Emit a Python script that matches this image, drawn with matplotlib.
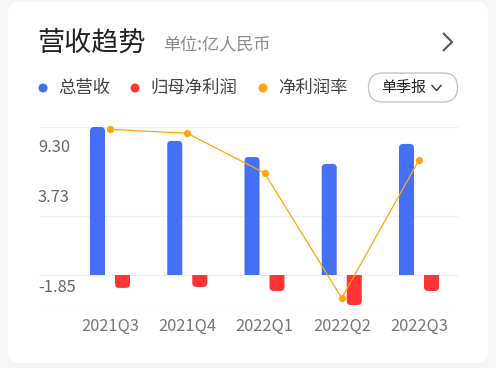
import matplotlib
matplotlib.use("Agg")
import matplotlib.pyplot as plt
from matplotlib.patches import FancyBboxPatch, Rectangle, Circle
from matplotlib.transforms import blended_transform_factory
from matplotlib.lines import Line2D

plt.rcParams['font.family'] = ['Noto Sans CJK SC', 'DejaVu Sans']

# ---------------- data ----------------
categories = ["2021Q3", "2021Q4", "2022Q1", "2022Q2", "2022Q3"]
revenue = [9.30, 8.43, 7.42, 6.99, 8.24]          # 总营收 (亿)
net_profit = [-0.78, -0.72, -0.97, -1.85, -0.97]   # 归母净利润 (亿)
net_margin = [-8.45, -8.87, -13.12, -26.51, -11.73]  # 净利润率 (%)
ytick_values = [-1.85, 3.73, 9.30]
ytick_labels = ["-1.85", "3.73", "9.30"]

title = "营收趋势"
subtitle = "单位:亿人民币"
legend_names = ["总营收", "归母净利润", "净利润率"]
button_text = "单季报"

BLUE = "#4570F6"
RED = "#FF3434"
ORANGE = "#FFA60A"

W, H = 496, 368
fig = plt.figure(figsize=(W / 100, H / 100), dpi=100)
fig.patch.set_facecolor("#f6f6f6")

# background / decoration axes in pixel coordinates
bg = fig.add_axes([0, 0, 1, 1])
bg.set_xlim(0, W)
bg.set_ylim(H, 0)
bg.axis("off")
bg.set_zorder(0)
bg.add_patch(FancyBboxPatch((8, 2), 480, 361, boxstyle="round,pad=0,rounding_size=12",
                            facecolor="white", edgecolor="none"))

bg.text(37, 43, title, fontsize=19.5, color="#222222", va="center", ha="left")
bg.text(163, 44, subtitle, fontsize=12.3, color="#8a8a8a", va="center", ha="left")
bg.add_line(Line2D([443, 452, 443], [33, 42, 51], color="#555555", lw=1.5,
                   solid_joinstyle="miter", solid_capstyle="butt"))

legend_colors = [BLUE, RED, ORANGE]
legend_dot_x = [43, 135, 263]
for name, c, dx in zip(legend_names, legend_colors, legend_dot_x):
    bg.add_patch(Circle((dx, 88), 4.5, facecolor=c, edgecolor="none"))
    bg.text(dx + 15, 88, name, fontsize=12.5, color="#444444", va="center", ha="left")

bg.add_patch(FancyBboxPatch((368.5, 73), 89, 29, boxstyle="round,pad=0,rounding_size=14.5",
                            facecolor="white", edgecolor="#c4c4c4", lw=1))
bg.text(381, 88, button_text, fontsize=10.8, color="#222222", va="center", ha="left")
bg.add_line(Line2D([432, 436.5, 441], [85.5, 90.5, 85.5], color="#333333", lw=1))

# ---------------- chart axes ----------------
px_left, px_right, px_top, px_bottom = 39, 458, 127, 305
ax = fig.add_axes([px_left / W, (H - px_bottom) / H, (px_right - px_left) / W,
                   (px_bottom - px_top) / H])
ax.set_zorder(1)
ax.patch.set_visible(False)
cat_px0, cat_step = 110, 77.25
xlo = (px_left - cat_px0) / cat_step
xhi = (px_right - cat_px0) / cat_step
ax.set_xlim(xlo, xhi)
ymin, ymax = min(net_profit), max(revenue)
ax.set_ylim(ymin, ymax)
for s in ax.spines.values():
    s.set_visible(False)
ax.set_xticks([])
ax.set_yticks([])

grid_vals = [ymin, (ymin + ymax) / 2, 0, ymax]
for g in grid_vals:
    ax.axhline(g, color="#f0f0f0", lw=1, zorder=0.5)

xu = (xhi - xlo) / (px_right - px_left)       # x data units per pixel
yu = (ymax - ymin) / (px_bottom - px_top)     # y data units per pixel
bar_w = 15 * xu
offset = 12.5 * xu
radius_px = 4


def round_bars(container, positive):
    for rect in container:
        x, y0 = rect.get_x(), rect.get_y()
        w, h = rect.get_width(), rect.get_height()
        ext = radius_px * yu
        if positive:
            ys, hh = y0 - ext, h + ext
            clip = Rectangle((x - 1, 0), w + 2, 100, transform=ax.transData)
        else:
            top = y0 + h  # negative bar: y0=0, h<0 -> handle generically
            lo, hi = min(y0, y0 + h), max(y0, y0 + h)
            ys, hh = lo, (hi - lo) + ext
            clip = Rectangle((x - 1, -100), w + 2, 100, transform=ax.transData)
        p = FancyBboxPatch((x, ys), w, hh,
                           boxstyle=f"round,pad=0,rounding_size={radius_px * xu}",
                           mutation_aspect=yu / xu,
                           facecolor=rect.get_facecolor(), edgecolor="none",
                           zorder=2)
        ax.add_patch(p)
        p.set_clip_path(clip)
        rect.set_visible(False)


idx = list(range(len(categories)))
b1 = ax.bar([i - offset for i in idx], revenue, width=bar_w, color=BLUE)
b2 = ax.bar([i + offset for i in idx], net_profit, width=bar_w, color=RED)
round_bars(b1, True)
round_bars(b2, False)

# y labels
trans = blended_transform_factory(ax.transAxes, ax.transData)
label_offsets = {"-1.85": 18, "3.73": 18, "9.30": -21}
for v, lab in zip(ytick_values, ytick_labels):
    ax.annotate(lab, xy=(0, v), xycoords=trans, xytext=(-1, label_offsets[lab]),
                textcoords="offset pixels", ha="left", va="center",
                fontsize=11.8, color="#666666", annotation_clip=False)

# x labels
transx = blended_transform_factory(ax.transData, ax.transAxes)
for i, c in enumerate(categories):
    ax.annotate(c, xy=(i, 0), xycoords=transx, xytext=(0, -21),
                textcoords="offset pixels", ha="center", va="center",
                fontsize=11.8, color="#777777", annotation_clip=False)

# net margin line on secondary axis
ax2 = ax.twinx()
ax2.set_zorder(3)
ax2.patch.set_visible(False)
ax2.set_ylim(-27.26, -8.2)
ax2.axis("off")
ax2.plot(idx, net_margin, color=ORANGE, lw=0.9, marker="o", markersize=5.2,
         markeredgewidth=0, clip_on=False)

fig.savefig("out.png", dpi=100, facecolor=fig.get_facecolor())
